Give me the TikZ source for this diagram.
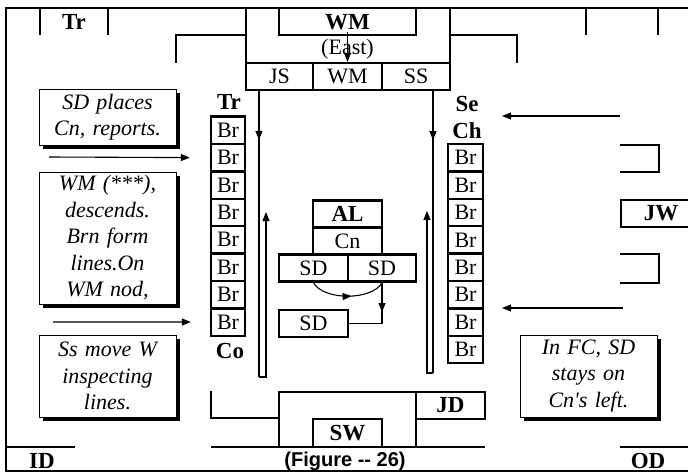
\documentclass[tikz,border=0pt]{standalone}
\usepackage{fontspec}
\setmainfont{Liberation Serif}
\newfontfamily\capfont{Liberation Sans}
\usetikzlibrary{arrows.meta, positioning, calc, shadows, decorations.markings}

\begin{document}
\begin{tikzpicture}[x=1pt, y=-1pt,
  font=\fontsize{22}{26.5}\selectfont,
  wall/.style={line width=2.6pt},
  brbox/.style={
    draw, line width=2.4pt, minimum width=34pt, minimum height=27.4pt,
    inner sep=0pt
  },
  cellbox/.style={
    draw, line width=2.4pt, minimum height=27pt, inner sep=0pt
  },
  tag/.style={font=\fontsize{23}{26.5}\selectfont\bfseries},
  notebox/.style={
    draw, line width=0.8pt, fill=white, text width=137pt,
    minimum height=#1, inner sep=0pt, align=center,
    font=\fontsize{22}{26.5}\selectfont\itshape,
    drop shadow={shadow xshift=4pt, shadow yshift=-4pt, fill=black, opacity=1}
  },
  thinline/.style={line width=1.1pt},
  flow/.style={line width=1.1pt, -{Triangle[length=9pt,width=7pt]}},
  midarrow/.style={postaction={decorate, decoration={markings,
    mark=at position #1 with {\arrow{Triangle[length=9pt,width=7pt]}}}}},
]
\useasboundingbox (0,0) rectangle (688,474);
\clip (0,0) rectangle (688,474);
\draw[wall] (700,8) -- (6,8) -- (6,471) -- (700,471);
\draw[wall] (40,8) -- (40,35);
\draw[wall] (108,8) -- (108,35);
\node[tag] (trtop) at (74,22) {Tr};
\draw[wall] (176,63) -- (176,35) -- (246,35);
\draw[wall] (246,8) -- (246,63) -- (450,63) -- (450,8);
\draw[wall] (279,8) -- (279,35) -- (416,35) -- (416,8);
\draw[wall] (450,35) -- (517,35) -- (517,63);
\draw[wall] (586,8) -- (586,35);
\draw[wall] (658,8) -- (658,35);
\node[tag, inner sep=2pt] (wmtop) at (347.5,22) {WM};
\node (east) at (347.5,49) {(East)};
\node[cellbox, minimum width=67pt] (js)    at (279.5,76.5) {JS};
\node[cellbox, minimum width=69pt] (wmrow) at (347.5,76.5) {WM};
\node[cellbox, minimum width=68pt] (ss)    at (416,76.5)   {SS};
\draw[flow, line width=0.8pt] (wmtop.south) -- (wmrow.north);

\node[tag] (trl) at (229,102) {Tr};
\node[tag] (co)  at (230,351) {Co};
\node[tag] (se)  at (467,104) {Se};
\node[tag] (ch)  at (467,131) {Ch};
\foreach \i in {1,...,8} {
  \node[brbox] (brl\i) at (228, {130.2+27.4*(\i-1)}) {Br};
  \node[brbox, minimum width=35pt] (brr\i) at (465.5, {157.7+27.4*(\i-1)}) {Br};
}

\coordinate (ldown) at (259,90);
\coordinate (lbot)  at (259,377);
\coordinate (lup)   at (266,212);
\draw[thinline, midarrow=0.174] (ldown) -- (lbot);
\draw[flow] (lbot) -| (lup);
\coordinate (rdown) at (433,90);
\coordinate (rbot)  at (433,373);
\coordinate (rup)   at (427,211);
\draw[thinline, midarrow=0.177] (rdown) -- (rbot);
\draw[flow] (rbot) -| (rup);

\node[cellbox, tag, minimum width=69pt] (al)  at (347.5,214)   {AL};
\node[cellbox, minimum width=69pt]      (cn)  at (347.5,241)   {Cn};
\node[cellbox, minimum width=69pt]      (sd1) at (313.5,268)   {SD};
\node[cellbox, minimum width=68pt]      (sd2) at (382,268)     {SD};
\node[cellbox, minimum width=69pt]      (sd3) at (313.5,323.5) {SD};
\draw[thinline, midarrow=0.55] (sd1.south)
  .. controls +(10,18) and +(-10,18) .. (sd2.south);
\draw[thinline, midarrow=0.40] (sd2.south) |- (sd3.east);

\node[notebox=56pt]  (n1) at (107.5,117) {SD places\\Cn, reports.};
\node[notebox=132pt] (n2) at (107.5,238)
  {WM (***),\\descends.\\Brn form\\lines.On\\WM nod,};
\node[notebox=82pt]  (n3) at (107.5,376) {Ss move W\\inspecting\\lines.};
\node[notebox=82pt]  (n4) at (588.5,376)
  {In FC, SD\\stays on\\Cn\textquotesingle s left.};

\coordinate (la1) at (49,157);
\coordinate (la2) at (53,322);
\draw[flow] (la1) -- ([xshift=-20pt]brl2.west);
\draw[flow] (la2) -- ([xshift=-19pt]brl8.west);
\coordinate (ra1) at (620,116);
\coordinate (ra1end) at (502,116);
\coordinate (ra2) at (623,308);
\coordinate (ra2end) at (502,308);
\draw[flow] (ra1) -- (ra1end);
\draw[flow] (ra2) -- (ra2end);

\draw[wall] (620,145) -- (659,145) -- (659,172) -- (620,172);
\draw[wall] (620,254) -- (659,254) -- (659,283) -- (620,283);
\node[cellbox, tag, minimum width=80pt, anchor=west] (jw) at (620,213.5) {JW};

\draw[wall] (6,447) -- (75,447);
\draw[wall] (620,447) -- (700,447);
\node[tag] (id) at (42,461) {ID};
\node[tag] (od) at (648,461) {OD};
\draw[wall] (211,391) -- (211,418) -- (279,418);
\draw[wall] (279,447) -- (279,392) -- (485,392) -- (485,419) -- (416,419);
\draw[wall] (416,392) -- (416,447);
\draw[wall] (211,447) -- (485,447);
\node[cellbox, tag, minimum width=69pt, minimum height=28pt] (sw) at (347.5,433) {SW};
\node[tag] (jd) at (450.5,405.5) {JD};
\node[font=\capfont\fontsize{20}{24}\selectfont\bfseries] (fig) at (345,461)
  {(Figure -{}- 26)};
\end{tikzpicture}
\end{document}
